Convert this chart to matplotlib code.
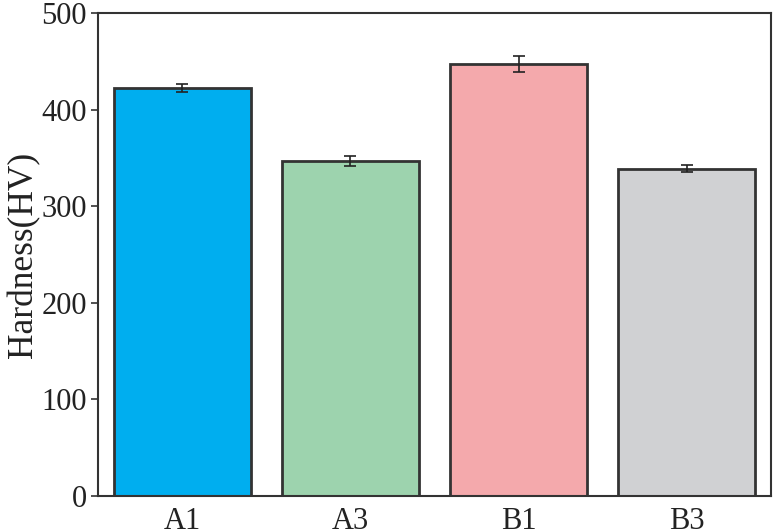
import matplotlib
matplotlib.use("Agg")
import matplotlib.pyplot as plt
import numpy as np

categories = ["A1", "A3", "B1", "B3"]
hardness = [422, 347, 447, 339]
errors = [4, 5, 8, 3.5]
colors = ["#00AEEF", "#9DD3AE", "#F4A9AC", "#D0D1D3"]
yticks = [0, 100, 200, 300, 400, 500]

plt.rcParams['font.family'] = ['Liberation Serif', 'DejaVu Serif']

fig = plt.figure(figsize=(7.73, 5.31), dpi=100)
ax = fig.add_axes([0.1268, 0.0659, 0.8706, 0.9096])

x = np.arange(len(categories))
ax.bar(x, hardness, width=0.815, color=colors, edgecolor="#333333", linewidth=2,
       yerr=errors, capsize=4.5, error_kw=dict(elinewidth=1.2, capthick=1.2, ecolor="#222222"))

ax.set_xlim(-0.5, 3.5)
ax.set_ylim(0, 500)
ax.set_yticks(yticks)
ax.set_xticks(x)
ax.set_xticklabels(categories)
ax.tick_params(axis='y', direction='out', length=5, width=1.2, labelsize=22, pad=3, colors="#333333", labelcolor="#222222")
ax.tick_params(axis='x', length=0, labelsize=22, pad=8, labelcolor="#222222")
for s in ax.spines.values():
    s.set_linewidth(1.5)
    s.set_color("#333333")
ax.set_ylabel("Hardness(HV)", fontsize=25.5, color="#222222", labelpad=1)

fig.savefig("out.png", dpi=100)
